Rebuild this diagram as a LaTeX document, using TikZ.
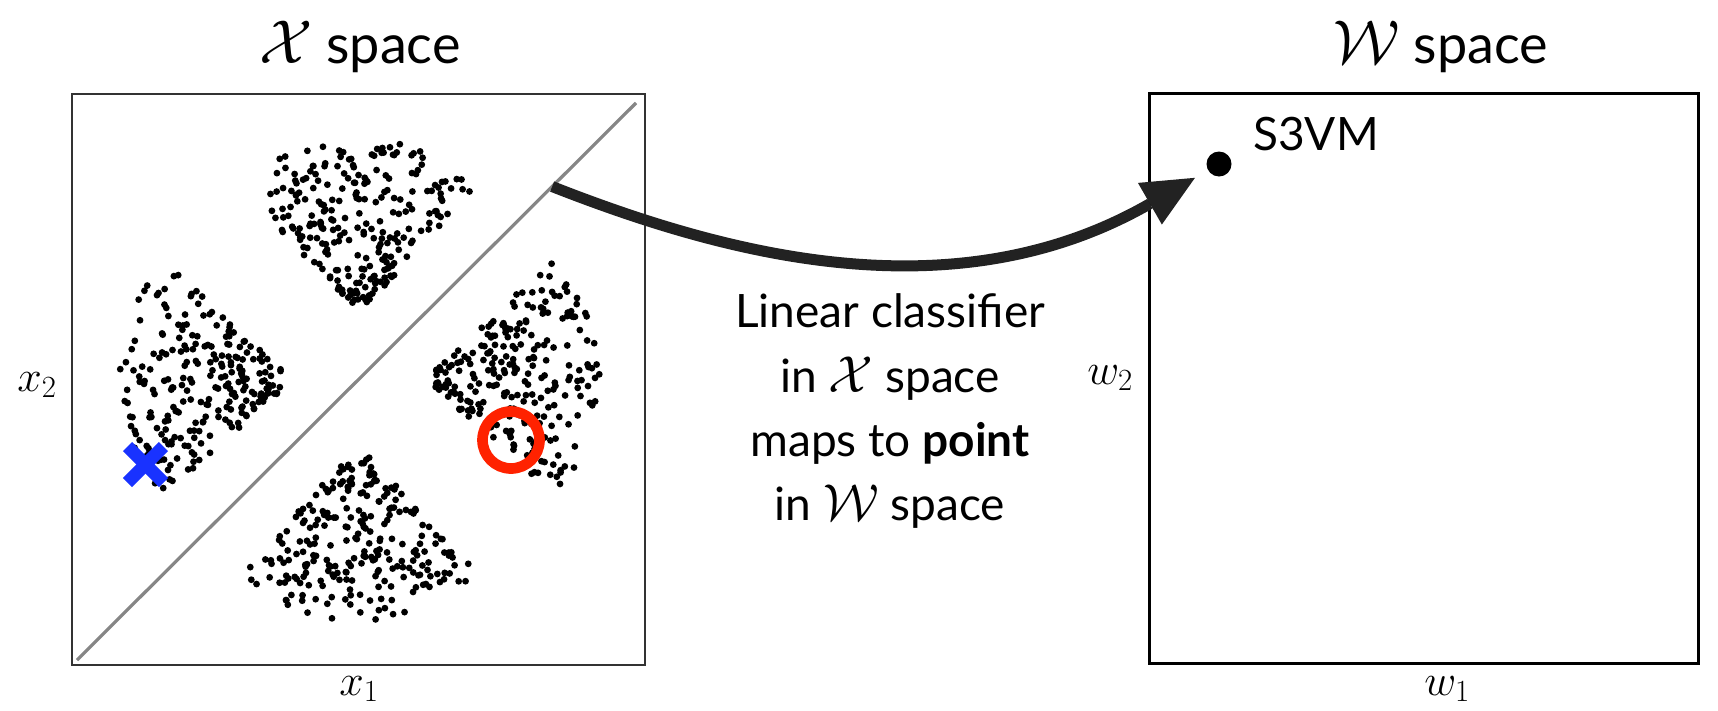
\RequirePackage{fix-cm}
\documentclass[tikz,border=0pt]{standalone}
\usepackage{fontspec}
\setmainfont{Lato}
\usetikzlibrary{arrows.meta,calc}

\definecolor{crossblue}{RGB}{25,50,255}
\definecolor{ringred}{RGB}{255,34,0}
\definecolor{arrowgray}{RGB}{34,34,34}

\begin{document}
\begin{tikzpicture}[x=1pt,y=-1pt,
  title/.style={anchor=base, inner sep=0pt, font=\fontsize{54}{60}\selectfont},
  caption/.style={anchor=base, inner sep=0pt, font=\fontsize{46}{50}\selectfont},
  axislabel/.style={inner sep=0pt, font=\fontsize{44}{50}\selectfont},
  plane/.style={draw, rectangle, inner sep=0pt, outer sep=0pt},
  datadot/.style={fill=black},
  mapping/.style={draw=arrowgray, line width=11pt,
    -{Triangle[length=52pt,width=48pt,line width=0pt]}}
]
\useasboundingbox (0,0) rectangle (1718,710);

% the two planes
\node[plane, draw=black!80, line width=2.5pt,
  minimum width=573pt, minimum height=571pt] (xplane) at (358.5,379.5) {};
\node[plane, draw=black, line width=3pt,
  minimum width=549pt, minimum height=570pt] (wplane) at (1423.5,378) {};

% titles
\node[title] (xtitle) at (360,63) {{\fontsize{62}{62}\selectfont$\mathcal{X}$} space};
\node[title] (wtitle) at (1441,63) {{\fontsize{62}{62}\selectfont$\mathcal{W}$} space};

% axis labels
\node[axislabel] (x1) at (359,689) {$x_1$};
\node[axislabel] (x2) at (37,385) {$x_2$};
\node[axislabel] (w1) at (1447,689) {$w_1$};
\node[axislabel] (w2) at (1110,378) {$w_2$};

% four fan-shaped clusters of unlabeled points, each opening away from the centre
\coordinate (c) at (358.5,379.5);
\pgfmathsetseed{4242}
\foreach \base in {-90,180,0,90}{
  \foreach \k in {1,...,250}{
    \pgfmathsetmacro\ang{\base+86*rnd-43}
    \pgfmathsetmacro\rad{12+163*(rnd^0.8)}
    \fill[datadot] (c) ++(\base:66) ++(\ang:\rad) circle (3.4pt);
  }
}

% decision boundary
\coordinate (d0) at (77,660);
\coordinate (d1) at (636,103);
\draw[gray!95, line width=3.2pt] (d0) -- (d1);

% labeled points
\coordinate (xpt) at (145.5,464.5);
\draw[crossblue, line width=13pt] ($(xpt)+(-18,-18)$) -- ($(xpt)+(18,18)$);
\draw[crossblue, line width=13pt] ($(xpt)+(-18,18)$) -- ($(xpt)+(18,-18)$);
\node[draw=ringred, line width=10.7pt, circle, minimum size=57pt,
  inner sep=0pt] (opt) at (511,440) {};

% the classifier as a point in W space
\node[circle, fill=black, minimum size=25pt, inner sep=0pt] (s3vm) at (1219,164) {};
\node[anchor=base west, inner sep=0pt, font=\fontsize{46}{50}\selectfont]
  (s3vmlabel) at (1253,150) {S3VM};

% mapping arrow
\coordinate (src) at ($(d0)!0.85!(d1)$);
\draw[mapping, shorten >=15pt] (src) .. controls (719,252) and (951,318) .. (s3vm);

% explanation
\node[caption] (line1) at (890,327) {Linear classifier};
\node[caption] (line2) at (890,392) {in {\fontsize{52}{52}\selectfont$\mathcal{X}$} space};
\node[caption] (line3) at (890,456) {maps to \textbf{point}};
\node[caption] (line4) at (890,520) {in {\fontsize{52}{52}\selectfont$\mathcal{W}$} space};
\end{tikzpicture}
\end{document}
